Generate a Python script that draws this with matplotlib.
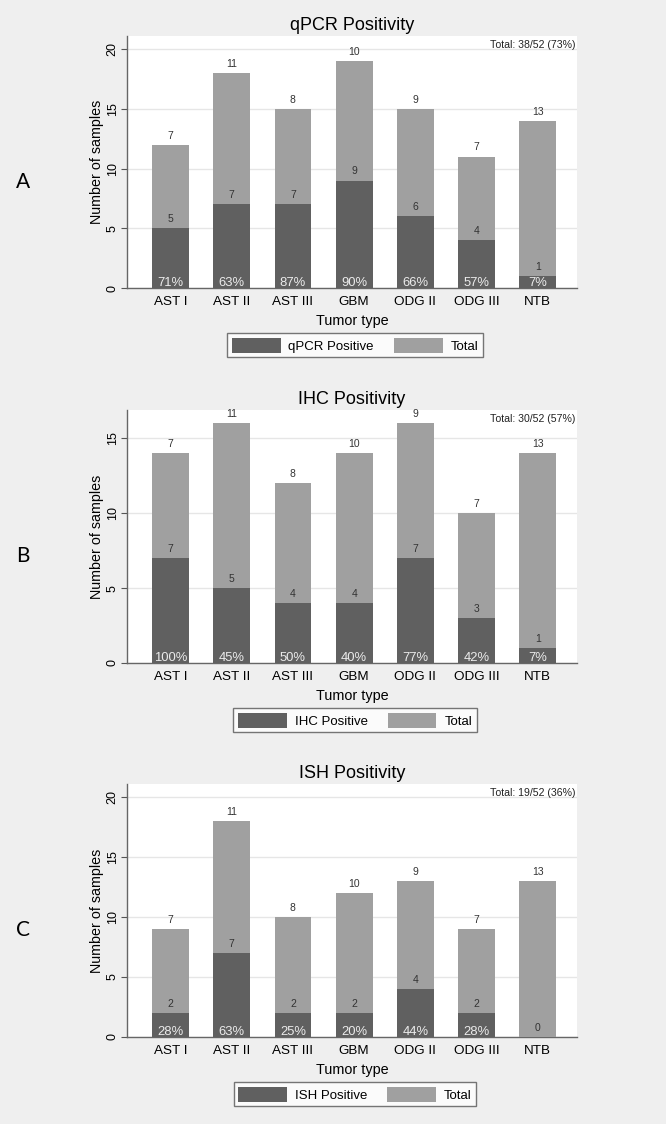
import matplotlib.pyplot as plt
from matplotlib.patches import Patch

tumors = ["AST I", "AST II", "AST III", "GBM", "ODG II", "ODG III", "NTB"]

qpcr_pos = [5, 7, 7, 9, 6, 4, 1]
qpcr_total = [7, 11, 8, 10, 9, 7, 13]
qpcr_pct = ["71%", "63%", "87%", "90%", "66%", "57%", "7%"]

ihc_pos = [7, 5, 4, 4, 7, 3, 1]
ihc_total = [7, 11, 8, 10, 9, 7, 13]
ihc_pct = ["100%", "45%", "50%", "40%", "77%", "42%", "7%"]

ish_pos = [2, 7, 2, 2, 4, 2, 0]
ish_total = [7, 11, 8, 10, 9, 7, 13]
ish_pct = ["28%", "63%", "25%", "20%", "44%", "28%", ""]

panels = [
    ("A", "qPCR Positivity", "qPCR Positive", qpcr_pos, qpcr_total, qpcr_pct,
     "Total: 38/52 (73%)", [0, 5, 10, 15, 20], 21.1),
    ("B", "IHC Positivity", "IHC Positive", ihc_pos, ihc_total, ihc_pct,
     "Total: 30/52 (57%)", [0, 5, 10, 15], 16.9),
    ("C", "ISH Positivity", "ISH Positive", ish_pos, ish_total, ish_pct,
     "Total: 19/52 (36%)", [0, 5, 10, 15, 20], 21.1),
]

# axes boxes in pixels (top, bottom) of the 666x1124 figure
boxes = [(36, 288), (410, 663), (784, 1037)]

DARK = "#606060"
LIGHT = "#a0a0a0"
BG = "#efefef"

plt.rcParams["font.family"] = ["Liberation Sans", "DejaVu Sans"]

W, H = 666, 1124
fig = plt.figure(figsize=(W / 100, H / 100), dpi=100, facecolor=BG)

x = list(range(len(tumors)))
for (letter, title, poslab, pos, tot, pct, totxt, yt, ymax), (top, bot) in zip(panels, boxes):
    left, right = 127 / W, 577 / W
    ax = fig.add_axes([left, 1 - bot / H, right - left, (bot - top) / H])
    ax.set_facecolor("white")
    ax.bar(x, pos, width=0.6, color=DARK, zorder=3)
    ax.bar(x, tot, width=0.6, bottom=pos, color=LIGHT, zorder=3)
    for i in x:
        ax.annotate(str(tot[i]), (i, pos[i] + tot[i]), xytext=(0, 3), textcoords="offset points",
                    ha="center", va="bottom", fontsize=7.5, color="#333333", zorder=4)
        ax.annotate(str(pos[i]), (i, pos[i]), xytext=(0, 3), textcoords="offset points",
                    ha="center", va="bottom", fontsize=7.5, color="#333333", zorder=4)
        if pct[i]:
            ax.annotate(pct[i], (i, 0), xytext=(0, -1), textcoords="offset points",
                        ha="center", va="bottom", fontsize=9.4, color="#ebebeb", zorder=4)
    ax.set_xlim(-0.71, 6.64)
    ax.set_ylim(0, ymax)
    ax.set_yticks(yt)
    ax.set_yticklabels([str(v) for v in yt], rotation=90, va="center", fontsize=9)
    ax.set_xticks(x)
    ax.set_xticklabels(tumors, fontsize=9.7)
    ax.tick_params(axis="x", length=0, pad=6)
    ax.tick_params(axis="y", length=4, color="#555555", pad=2)
    ax.yaxis.grid(True, color="#e6e6e6", linewidth=1, zorder=0)
    for s in ["top", "right"]:
        ax.spines[s].set_visible(False)
    for s in ["left", "bottom"]:
        ax.spines[s].set_color("#666666")
        ax.spines[s].set_linewidth(1)
    ax.set_ylabel("Number of samples", fontsize=10.3, labelpad=2)
    ax.set_xlabel("Tumor type", fontsize=10.4, labelpad=4)
    ax.set_title(title, fontsize=13, pad=4.5)
    ax.annotate(totxt, (1, 1), xycoords="axes fraction", xytext=(-1, -3),
                textcoords="offset points", ha="right", va="top",
                fontsize=7.6, color="#222222")
    handles = [Patch(facecolor=DARK, edgecolor="none"), Patch(facecolor=LIGHT, edgecolor="none")]
    leg = fig.legend(handles, [poslab, "Total"], loc="upper center",
                     bbox_to_anchor=(355 / W, 1 - (bot + 45) / H), ncol=2,
                     fontsize=9.5, frameon=True, fancybox=False, edgecolor="#555555",
                     handlelength=3.7, handleheight=1.4, columnspacing=1.5,
                     handletextpad=0.6, borderpad=0.35, borderaxespad=0)
    leg.get_frame().set_linewidth(1)
    fig.text(23 / W, 1 - (top + 146) / H, letter, fontsize=15, ha="center", va="center",
             family=["Lato", "DejaVu Sans"])

fig.savefig("out.png", dpi=100, facecolor=BG)
